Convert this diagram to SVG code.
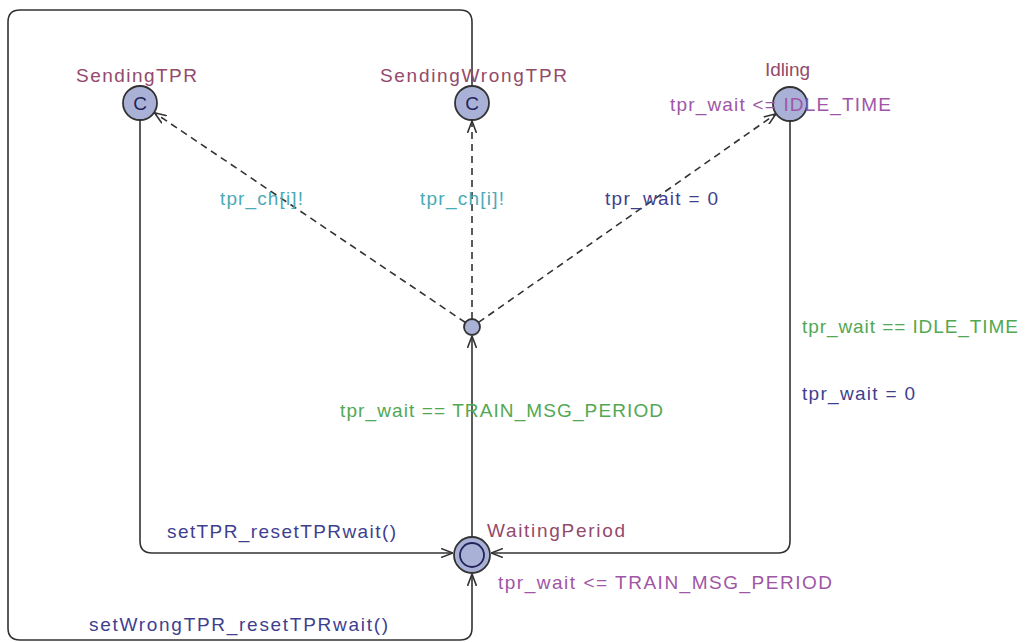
<svg xmlns="http://www.w3.org/2000/svg" width="1027" height="642" viewBox="0 0 1027 642">
<style>
text{font-family:"Liberation Sans",Arial,sans-serif;font-size:19px}
.name{fill:#934a6b}
.inv{fill:#a056a6}
.guard{fill:#52a852}
.sync{fill:#4aaab6}
.upd{fill:#3f3f8f}
.loc{fill:#a9b2d6;stroke:#333;stroke-width:1.8}
.edge{fill:none;stroke:#333;stroke-width:1.6}
.dash{stroke-dasharray:7,5}
.cl{fill:#23235a;font-size:19px}
</style>
<defs>
<marker id="arr" viewBox="0 0 12 10" refX="12" refY="5" markerWidth="12" markerHeight="10" markerUnits="userSpaceOnUse" orient="auto">
<path d="M0,0.5 L12,5 L0,9.5" fill="none" stroke="#333" stroke-width="1.6"/>
</marker>
</defs>
<rect width="1027" height="642" fill="#fff"/>
<g id="connectors">
<path class="edge" d="M140,120 V541 Q140,553 152,553 H453" marker-end="url(#arr)"/>
<path class="edge" d="M790,121 V541 Q790,553 778,553 H491" marker-end="url(#arr)"/>
<path class="edge" d="M472,86 V22 Q472,10 460,10 H20 Q8,10 8,22 V628 Q8,640 20,640 H460 Q472,640 472,628 V574" marker-end="url(#arr)"/>
<path class="edge" d="M472,537 V336" marker-end="url(#arr)"/>
<path class="edge dash" d="M465.4,322.5 L154.5,112.8" marker-end="url(#arr)"/>
<path class="edge dash" d="M472,319 V121" marker-end="url(#arr)"/>
<path class="edge dash" d="M478.5,322.4 L776,113.8" marker-end="url(#arr)"/>
<text class="sync" x="220" y="205" textLength="83" lengthAdjust="spacing">tpr_ch[i]!</text>
<text class="sync" x="420" y="205" textLength="84" lengthAdjust="spacing">tpr_ch[i]!</text>
<text class="upd" x="605" y="205" textLength="113" lengthAdjust="spacing">tpr_wait = 0</text>
<text class="guard" x="802" y="333" textLength="216" lengthAdjust="spacing">tpr_wait == IDLE_TIME</text>
<text class="upd" x="802" y="400" textLength="113" lengthAdjust="spacing">tpr_wait = 0</text>
<text class="guard" x="340" y="417" textLength="323" lengthAdjust="spacing">tpr_wait == TRAIN_MSG_PERIOD</text>
<text class="upd" x="167" y="538" textLength="229" lengthAdjust="spacing">setTPR_resetTPRwait()</text>
<text class="upd" x="89" y="631" textLength="299" lengthAdjust="spacing">setWrongTPR_resetTPRwait()</text>
</g>
<g id="SendingTPR">
<circle class="loc" cx="140" cy="103" r="17"/>
<text class="cl" x="140" y="110" text-anchor="middle">C</text>
<text class="name" x="76" y="82" textLength="121" lengthAdjust="spacing">SendingTPR</text>
</g>
<g id="SendingWrongTPR">
<circle class="loc" cx="472" cy="103" r="17"/>
<text class="cl" x="472" y="110" text-anchor="middle">C</text>
<text class="name" x="380" y="82" textLength="187" lengthAdjust="spacing">SendingWrongTPR</text>
</g>
<g id="Idling">
<circle class="loc" cx="790" cy="104" r="17"/>
<text class="name" x="765" y="76" textLength="45" lengthAdjust="spacing">Idling</text>
<text class="inv" x="670" y="111" textLength="221" lengthAdjust="spacing">tpr_wait &lt;= IDLE_TIME</text>
</g>
<g id="Branch">
<circle class="loc" cx="472" cy="327" r="8"/>
</g>
<g id="WaitingPeriod">
<circle class="loc" cx="472" cy="555" r="18"/>
<circle cx="472" cy="555" r="12" fill="none" stroke="#23235a" stroke-width="1.8"/>
<text class="name" x="487" y="537" textLength="138" lengthAdjust="spacing">WaitingPeriod</text>
<text class="inv" x="498" y="589" textLength="334" lengthAdjust="spacing">tpr_wait &lt;= TRAIN_MSG_PERIOD</text>
</g>
</svg>
